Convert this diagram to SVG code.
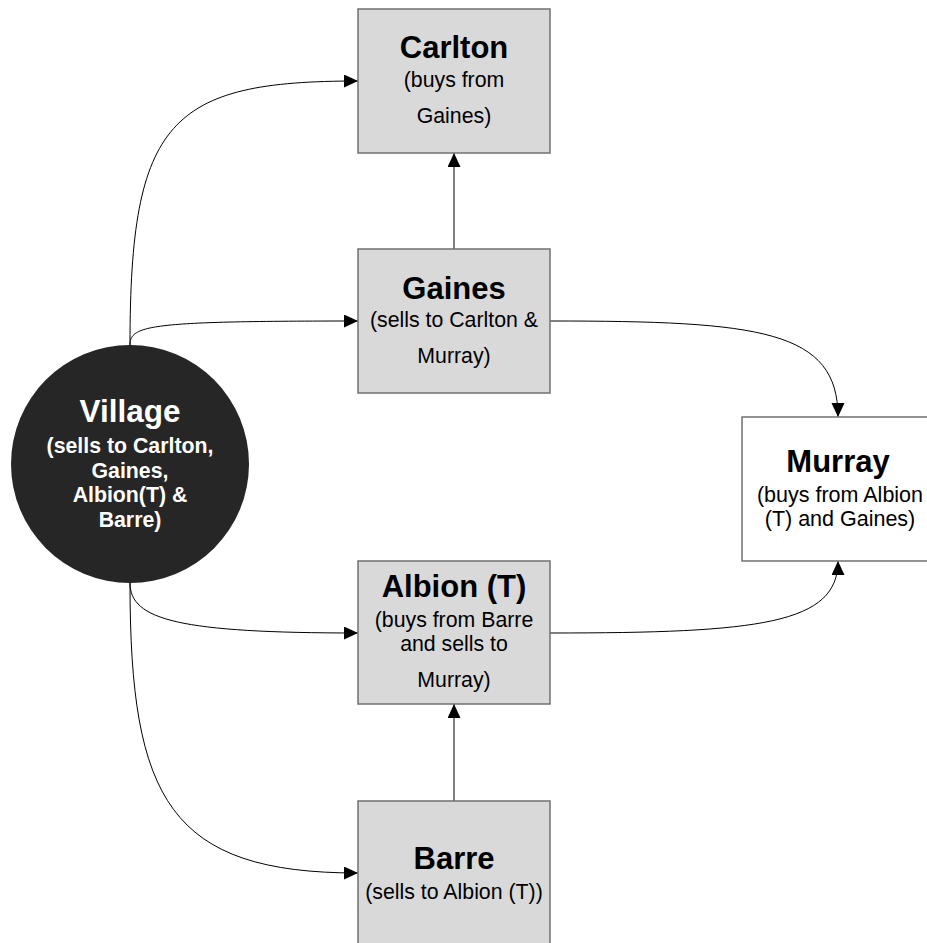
<svg xmlns="http://www.w3.org/2000/svg" width="927" height="943" viewBox="0 0 927 943">
<defs>
<marker id="arr" markerUnits="userSpaceOnUse" markerWidth="15" markerHeight="14" refX="14" refY="6.5" orient="auto">
<path d="M0,0 L14,6.5 L0,13 z" fill="#000"/>
</marker>
<style>
.box{fill:#d9d9d9;stroke:#707070;stroke-width:1.5}
.wbox{fill:#ffffff;stroke:#707070;stroke-width:1.5}
.conn{fill:none;stroke:#000;stroke-width:1;marker-end:url(#arr)}
.t{font-family:"Liberation Sans",Arial,sans-serif;font-weight:bold;font-size:31px;text-anchor:middle;fill:#000}
.s{font-family:"Liberation Sans",Arial,sans-serif;font-size:21.3px;text-anchor:middle;fill:#000}
.vt{font-family:"Liberation Sans",Arial,sans-serif;font-weight:bold;font-size:31.5px;text-anchor:middle;fill:#fff}
.vs{font-family:"Liberation Sans",Arial,sans-serif;font-weight:bold;font-size:21.3px;text-anchor:middle;fill:#fff}
</style>
</defs>
<rect width="927" height="943" fill="#fff"/>
<g id="connectors">
<path class="conn" d="M130,345 C130,120 170,81 358,81"/>
<path class="conn" d="M130,345 C130,325 150,321 358,321"/>
<path class="conn" d="M454,249 L454,153"/>
<path class="conn" d="M550,321 C760,321 838,330 838,417"/>
<path class="conn" d="M550,633 C760,633 838,624 838,561"/>
<path class="conn" d="M130,583 C130,620 180,633 358,633"/>
<path class="conn" d="M130,583 C130,800 170,873 358,873"/>
<path class="conn" d="M454,801 L454,704"/>
</g>
<g id="carlton">
<rect class="box" x="358" y="9" width="192" height="144"/>
<text class="t" x="454" y="58">Carlton</text>
<text class="s" x="454" y="87">(buys from</text>
<text class="s" x="454" y="123">Gaines)</text>
</g>
<g id="gaines">
<rect class="box" x="358" y="249" width="192" height="144"/>
<text class="t" x="454" y="299">Gaines</text>
<text class="s" x="454" y="327">(sells to Carlton &amp;</text>
<text class="s" x="454" y="363">Murray)</text>
</g>
<g id="murray">
<rect class="wbox" x="742" y="417" width="192" height="144"/>
<text class="t" x="838" y="472">Murray</text>
<text class="s" x="840" y="502" style="font-size:21.5px">(buys from Albion</text>
<text class="s" x="840" y="526" style="font-size:21.5px">(T) and Gaines)</text>
</g>
<g id="albion">
<rect class="box" x="358" y="561" width="192" height="143"/>
<text class="t" x="454" y="597">Albion (T)</text>
<text class="s" x="454" y="627">(buys from Barre</text>
<text class="s" x="454" y="651">and sells to</text>
<text class="s" x="454" y="687">Murray)</text>
</g>
<g id="barre">
<rect class="box" x="358" y="801" width="192" height="150"/>
<text class="t" x="454" y="869">Barre</text>
<text class="s" x="454" y="899">(sells to Albion (T))</text>
</g>
<g id="village">
<circle cx="130" cy="464" r="119" fill="#262626"/>
<text class="vt" x="130" y="422">Village</text>
<text class="vs" x="130" y="453">(sells to Carlton,</text>
<text class="vs" x="130" y="477.5">Gaines,</text>
<text class="vs" x="130" y="502">Albion(T) &amp;</text>
<text class="vs" x="130" y="527">Barre)</text>
</g>
</svg>
